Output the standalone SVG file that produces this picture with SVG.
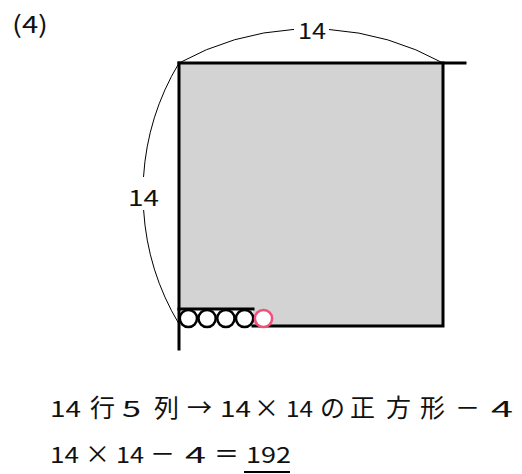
<svg xmlns="http://www.w3.org/2000/svg" width="522" height="474" viewBox="0 0 522 474">
<style>
.t{font-family:"Noto Sans CJK JP","Noto Sans",sans-serif;fill:#111;font-size:22px}
.k{font-size:25px}
.edge{stroke:#000;stroke-width:3;fill:none;stroke-linecap:square}
.arc{stroke:#000;stroke-width:1;fill:none}
.bead{fill:#fff;stroke:#000;stroke-width:2.5}
.pink{fill:#fff;stroke:#f0507a;stroke-width:2.5}
</style>
<rect width="522" height="474" fill="#fff"/>
<text class="t" x="12" y="33" style="font-size:24px" textLength="36" lengthAdjust="spacingAndGlyphs">(4)</text>
<g id="square">
<path d="M179,63 H443 V326 H253 V309 H179 Z" fill="#d3d3d3"/>
<path class="edge" d="M179,63 H465"/>
<path class="edge" d="M443,63 V326 H253"/>
<path class="edge" d="M179,309 H253"/>
<path class="edge" d="M179,63 V349"/>
</g>
<g id="beads">
<circle class="bead" cx="188.4" cy="318.5" r="8.6"/>
<circle class="bead" cx="207.1" cy="318.5" r="8.6"/>
<circle class="bead" cx="225.9" cy="318.5" r="8.6"/>
<circle class="bead" cx="244.6" cy="318.5" r="8.6"/>
<circle class="pink" cx="263.5" cy="318.5" r="8.6"/>
</g>
<g id="connectors">
<path class="arc" d="M179,63 A273.2,273.2 0 0 1 294,29.4"/>
<path class="arc" d="M329,29.5 A273.2,273.2 0 0 1 443,63"/>
<path class="arc" d="M179,63 A252.7,252.7 0 0 0 143.5,177"/>
<path class="arc" d="M143.6,210 A252.7,252.7 0 0 0 179,324"/>
</g>
<g id="labels">
<text class="t" x="298" y="39" textLength="28" lengthAdjust="spacingAndGlyphs">14</text>
<text class="t" x="128" y="206" textLength="31" lengthAdjust="spacingAndGlyphs">14</text>
</g>
<g id="calc">
<text class="t" y="417"><tspan x="50" textLength="31" lengthAdjust="spacingAndGlyphs">14</tspan><tspan class="k" x="90">行</tspan><tspan x="122" textLength="19" lengthAdjust="spacingAndGlyphs">5</tspan><tspan class="k" x="154">列</tspan><tspan class="k" x="187">→</tspan><tspan x="220" textLength="31" lengthAdjust="spacingAndGlyphs">14</tspan><tspan class="k" x="254">×</tspan><tspan x="286" textLength="27" lengthAdjust="spacingAndGlyphs">14</tspan><tspan class="k" x="320">の</tspan><tspan class="k" x="350">正</tspan><tspan class="k" x="386">方</tspan><tspan class="k" x="420">形</tspan><tspan class="k" x="455">－</tspan><tspan x="491" textLength="22" lengthAdjust="spacingAndGlyphs">4</tspan></text>
<text class="t" y="463"><tspan x="50" textLength="29" lengthAdjust="spacingAndGlyphs">14</tspan><tspan class="k" x="85">×</tspan><tspan x="116" textLength="28" lengthAdjust="spacingAndGlyphs">14</tspan><tspan class="k" x="150">－</tspan><tspan x="185" textLength="21" lengthAdjust="spacingAndGlyphs">4</tspan><tspan class="k" x="214">＝</tspan><tspan x="246" textLength="45" lengthAdjust="spacingAndGlyphs">192</tspan></text>
<path d="M244,472 H290" stroke="#000" stroke-width="2"/>
</g>
</svg>
